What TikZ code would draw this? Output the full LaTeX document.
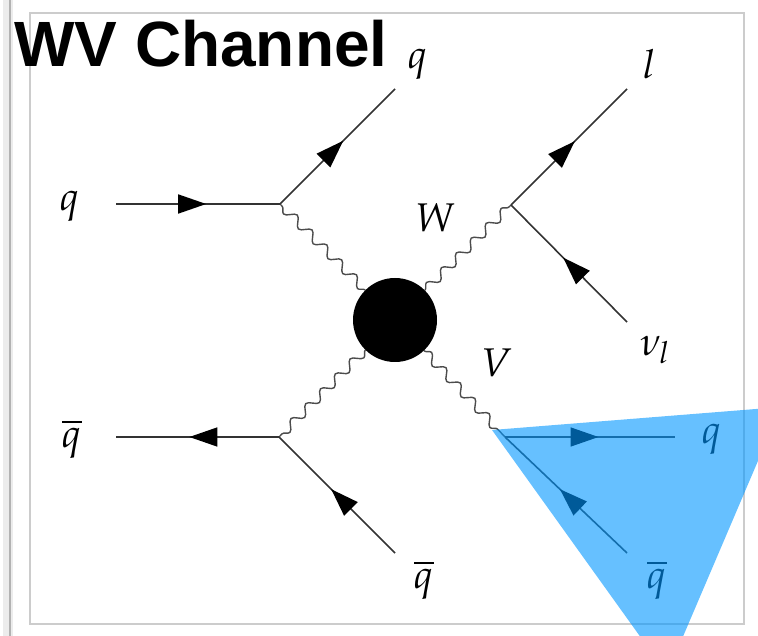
\documentclass[tikz,border=0pt]{standalone}
\usepackage[no-math]{fontspec}
\usepackage{mathpazo}
\usetikzlibrary{decorations.markings,decorations.pathmorphing,arrows.meta}
\newfontfamily\titlefont{Liberation Sans}
\definecolor{skyblue}{RGB}{0,150,255}
\tikzset{
	fermion/.style={draw=black!80, line width=1.6pt, postaction={decorate},
		decoration={markings, mark=at position 0.55 with {\arrow{Triangle[length=28pt,width=19pt,black]}}}},
	boson/.style={draw=black!70, line width=1.4pt, decorate,
		decoration={snake, segment length=21pt, amplitude=4.5pt}},
	lbl/.style={inner sep=0pt, font=\fontsize{40}{42}\selectfont}
}
\begin{document}
\begin{tikzpicture}[x=1pt, y=-1pt, >=latex]
		\useasboundingbox (0,0) rectangle (758,636);
		% frame
		\fill[gray!15] (3,0) rectangle (13,636);
		\draw[gray!60, line width=2.5pt] (10,0) -- (10,636);
		\draw[gray!40, line width=2pt] (30,13) rectangle (744,624);
		% vertices
		\node[circle, fill=black, minimum size=84pt, inner sep=0pt] (blob) at (395,320) {};
		\coordinate (vtl) at (280,204);
		\coordinate (vtr) at (511,205);
		\coordinate (vbl) at (279,437);
		\coordinate (vbr) at (505,437);
		\coordinate (qin) at (116,204);
		\coordinate (qout) at (395,89);
		\coordinate (lout) at (627,89);
		\coordinate (nuin) at (627,322);
		\coordinate (qbout) at (116,437);
		\coordinate (qbin) at (395,553);
		\coordinate (qvout) at (675,437);
		\coordinate (qbvin) at (627,553);
		% bosons
		\draw[boson] (blob) -- (vtl);
		\draw[boson] (blob) -- (vtr);
		\draw[boson] (blob) -- (vbl);
		\draw[boson] (blob) -- (vbr);
		% fermions
		\draw[fermion] (qin) -- (vtl);
		\draw[fermion] (vtl) -- (qout);
		\draw[fermion] (vtr) -- (lout);
		\draw[fermion] (nuin) -- (vtr);
		\draw[fermion] (vbl) -- (qbout);
		\draw[fermion] (qbin) -- (vbl);
		\draw[fermion] (vbr) -- (qvout);
		\draw[fermion] (qbvin) -- (vbr);
		% labels
		\node[lbl] (lqin) at (70,206) {$q$};
		\node[lbl] (lqout) at (418,64) {$q$};
		\node[lbl] (llout) at (650,64) {$l$};
		\node[lbl] (lnu) at (655,350) {$\nu_l$};
		\node[lbl] (lW) at (436,218) {$W$};
		\node[lbl] (lV) at (497,363) {$V$};
		\node[lbl] (lqbout) at (72,439) {$\overline{q}$};
		\node[lbl] (lqbin) at (424,580) {$\overline{q}$};
		\node[lbl] (lqvout) at (712,439) {$q$};
		\node[lbl] (lqbvin) at (657,580) {$\overline{q}$};
		% title
		\node[anchor=base west, inner sep=0pt, font=\titlefont\bfseries\fontsize{64}{70}\selectfont] (title) at (14,67) {WV Channel};
		% highlight
		\fill[skyblue, opacity=0.6] (492,430) -- (781,407) -- (667,674) -- cycle;
	\end{tikzpicture}
\end{document}
